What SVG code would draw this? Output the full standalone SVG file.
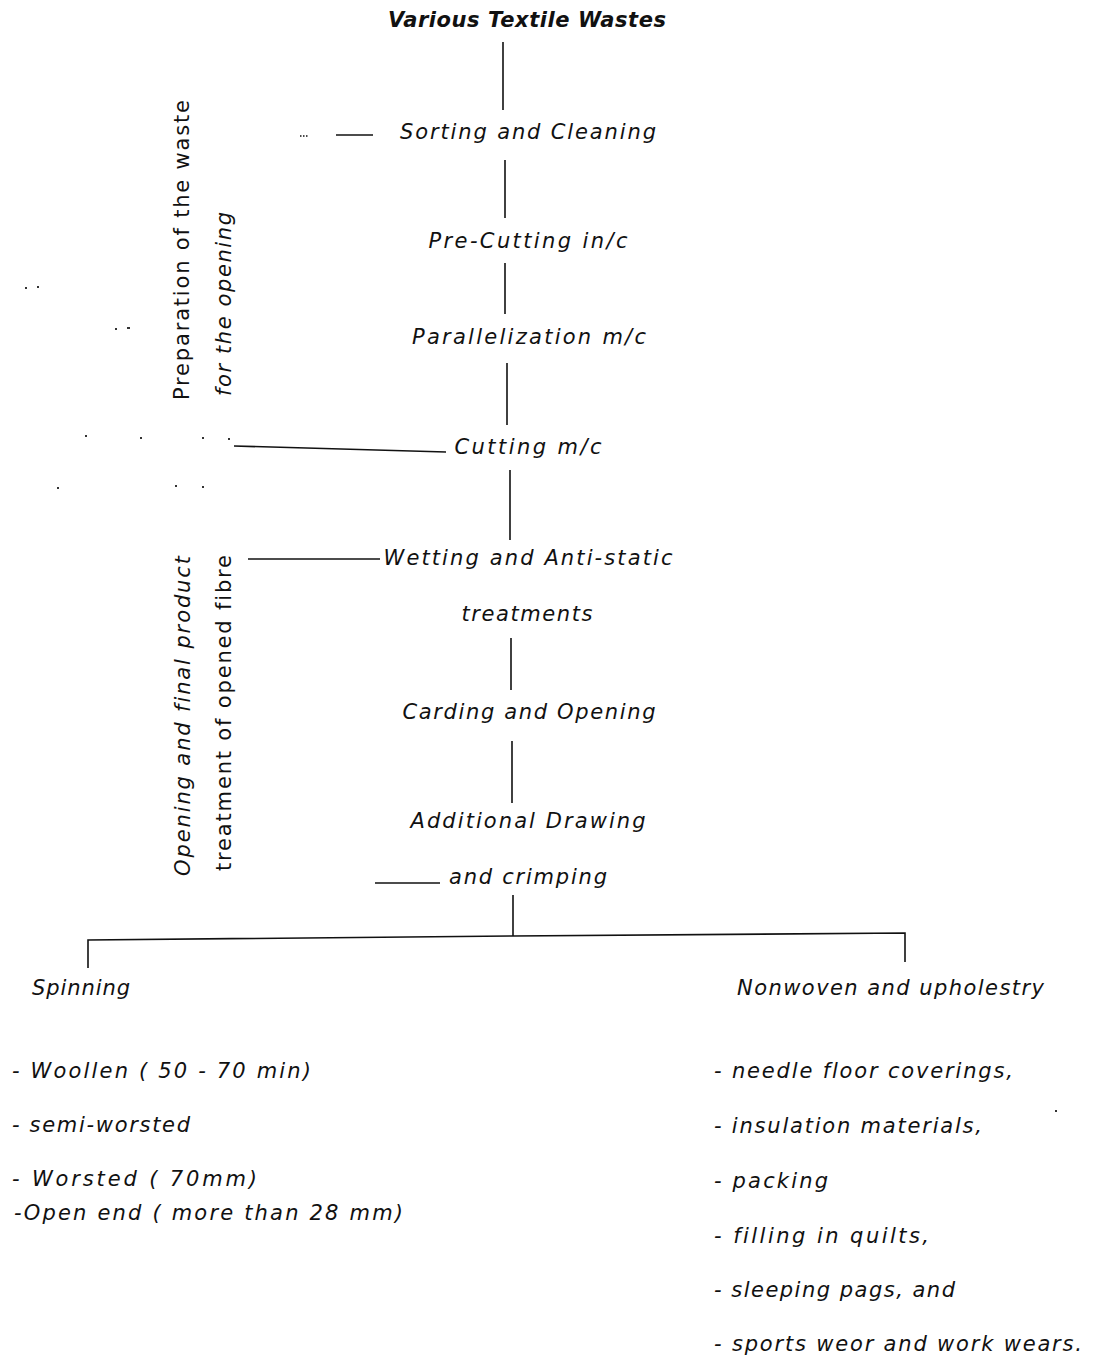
<svg xmlns="http://www.w3.org/2000/svg" width="1094" height="1358" viewBox="0 0 1094 1358">
<style>
text{font-family:"DejaVu Sans","Liberation Sans",sans-serif;font-style:italic;font-size:21px;fill:#111;font-variant-ligatures:none}
.b{font-weight:bold}
.c{text-anchor:middle}
.r{font-style:normal}
line{stroke:#111;stroke-width:1.6}
</style>
<rect width="1094" height="1358" fill="#fff"/>
<g id="connectors">
<line x1="503" y1="42" x2="503" y2="110"/>
<line x1="505" y1="160" x2="505" y2="218"/>
<line x1="505" y1="263" x2="505" y2="314"/>
<line x1="507" y1="363" x2="507" y2="425"/>
<line x1="510" y1="470" x2="510" y2="540"/>
<line x1="511" y1="638" x2="511" y2="690"/>
<line x1="512" y1="741" x2="512" y2="803"/>
<line x1="513" y1="895" x2="513" y2="936"/>
<polyline points="88,968 88,940 513,936 905,933 905,962" fill="none" stroke="#111" stroke-width="1.6"/>
<line x1="336" y1="135" x2="373" y2="135"/>
<line x1="300" y1="136" x2="308" y2="136" stroke-width="0.8" stroke-dasharray="1.5 1.5"/>
<line x1="234" y1="446" x2="446" y2="452"/>
<line x1="248" y1="559" x2="380" y2="559"/>
<line x1="375" y1="883" x2="440" y2="883"/>
</g>
<g id="noise" fill="#333">
<rect x="25" y="287" width="2" height="2"/><rect x="37" y="286" width="2" height="2"/>
<rect x="115" y="328" width="2" height="2"/><rect x="127" y="327" width="3" height="2"/>
<rect x="85" y="435" width="2" height="2"/><rect x="140" y="437" width="2" height="2"/><rect x="202" y="437" width="2" height="2"/><rect x="228" y="438" width="2" height="2"/>
<rect x="57" y="487" width="2" height="2"/><rect x="175" y="485" width="2" height="2"/><rect x="202" y="486" width="2" height="2"/>
<rect x="1055" y="1110" width="2" height="2"/>
</g>
<g id="n-title"><text class="b c" x="527" y="27" textLength="278" lengthAdjust="spacing">Various Textile Wastes</text></g>
<g id="n-sorting"><text class="c" x="528" y="139" textLength="256" lengthAdjust="spacing">Sorting and Cleaning</text></g>
<g id="n-precut"><text class="c" x="528" y="248" textLength="199" lengthAdjust="spacing">Pre-Cutting in/c</text></g>
<g id="n-parallel"><text class="c" x="529" y="344" textLength="234" lengthAdjust="spacing">Parallelization m/c</text></g>
<g id="n-cutting"><text class="c" x="528" y="454" textLength="147" lengthAdjust="spacing">Cutting m/c</text></g>
<g id="n-wetting">
<text class="c" x="528" y="565" textLength="289" lengthAdjust="spacing">Wetting and Anti-static</text>
<text class="c" x="527" y="621" textLength="131" lengthAdjust="spacing">treatments</text>
</g>
<g id="n-carding"><text class="c" x="529" y="719" textLength="253" lengthAdjust="spacing">Carding and Opening</text></g>
<g id="n-drawing">
<text class="c" x="528" y="828" textLength="235" lengthAdjust="spacing">Additional Drawing</text>
<text class="c" x="528" y="884" textLength="158" lengthAdjust="spacing">and crimping</text>
</g>
<g id="n-prep">
<text class="r c" transform="translate(189,250) rotate(-90)" textLength="300" lengthAdjust="spacing">Preparation of the waste</text>
<text class="c" transform="translate(231,304) rotate(-90)" textLength="184" lengthAdjust="spacing">for the opening</text>
</g>
<g id="n-opening">
<text class="c" transform="translate(190,716) rotate(-90)" textLength="320" lengthAdjust="spacing">Opening and final product</text>
<text class="r c" transform="translate(231,713) rotate(-90)" textLength="316" lengthAdjust="spacing">treatment of opened fibre</text>
</g>
<g id="n-spinning">
<text x="32" y="995" textLength="98" lengthAdjust="spacing">Spinning</text>
<text x="12" y="1078" textLength="299" lengthAdjust="spacing">- Woollen ( 50 - 70 min)</text>
<text x="12" y="1132" textLength="178" lengthAdjust="spacing">- semi-worsted</text>
<text x="12" y="1186" textLength="245" lengthAdjust="spacing">- Worsted (   70mm)</text>
<text x="14" y="1220" textLength="389" lengthAdjust="spacing">-Open end (  more than 28 mm)</text>
</g>
<g id="n-nonwoven">
<text x="737" y="995" textLength="307" lengthAdjust="spacing">Nonwoven and upholestry</text>
<text x="714" y="1078" textLength="299" lengthAdjust="spacing">- needle floor coverings,</text>
<text x="714" y="1133" textLength="268" lengthAdjust="spacing">- insulation materials,</text>
<text x="714" y="1188" textLength="114" lengthAdjust="spacing">- packing</text>
<text x="714" y="1243" textLength="215" lengthAdjust="spacing">- filling in quilts,</text>
<text x="714" y="1297" textLength="241" lengthAdjust="spacing">- sleeping pags, and</text>
<text x="714" y="1351" textLength="368" lengthAdjust="spacing">- sports weor and work wears.</text>
</g>
</svg>
